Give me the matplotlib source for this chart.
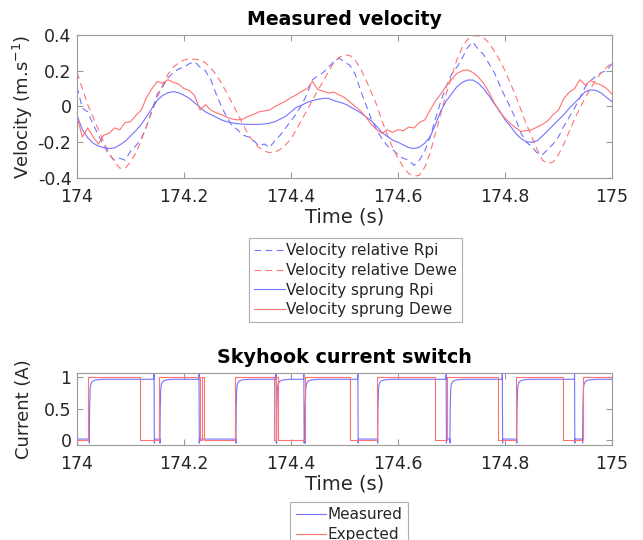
import numpy as np
import matplotlib
matplotlib.use("Agg")
import matplotlib.pyplot as plt

t_vel = np.round(np.arange(174.0, 175.0001, 0.01), 2)

rel_dewe = [0.19, 0.10, 0.01, -0.06, -0.13, -0.20, -0.26, -0.31, -0.345, -0.345,
            -0.31, -0.26, -0.19, -0.11, -0.03, 0.05, 0.12, 0.18, 0.22, 0.245,
            0.26, 0.265, 0.265, 0.26, 0.245, 0.215, 0.18, 0.13, 0.075, 0.02,
            -0.04, -0.10, -0.155, -0.20, -0.23, -0.25, -0.258, -0.255, -0.24, -0.215,
            -0.18, -0.13, -0.075, -0.02, 0.035, 0.09, 0.14, 0.195, 0.245, 0.275,
            0.29, 0.285, 0.26, 0.21, 0.15, 0.08, 0.01, -0.08, -0.16, -0.23,
            -0.29, -0.34, -0.375, -0.39, -0.385, -0.34, -0.26, -0.15, -0.04, 0.07,
            0.17, 0.26, 0.33, 0.375, 0.395, 0.395, 0.385, 0.355, 0.31, 0.26,
            0.20, 0.13, 0.06, -0.02, -0.10, -0.17, -0.24, -0.30, -0.32, -0.31,
            -0.27, -0.21, -0.14, -0.07, -0.01, 0.05, 0.10, 0.15, 0.19, 0.22,
            0.245]

rel_rpi = [0.11, -0.01, -0.03, -0.10, -0.16, -0.22, -0.27, -0.30, -0.29, -0.30,
           -0.25, -0.22, -0.18, -0.11, -0.02, 0.07, 0.11, 0.16, 0.19, 0.21,
           0.22, 0.24, 0.25, 0.22, 0.20, 0.15, 0.07, 0.00, -0.06, -0.11,
           -0.13, -0.16, -0.17, -0.19, -0.22, -0.21, -0.23, -0.19, -0.16, -0.12,
           -0.08, -0.04, 0.01, 0.07, 0.15, 0.17, 0.19, 0.22, 0.25, 0.27,
           0.25, 0.23, 0.18, 0.09, 0.01, -0.07, -0.13, -0.18, -0.22, -0.24,
           -0.27, -0.29, -0.30, -0.33, -0.30, -0.25, -0.17, -0.07, 0.03, 0.11,
           0.18, 0.22, 0.27, 0.33, 0.36, 0.32, 0.29, 0.24, 0.19, 0.12,
           0.055, -0.005, -0.07, -0.15, -0.20, -0.225, -0.26, -0.27, -0.24, -0.21,
           -0.17, -0.11, -0.06, -0.01, 0.05, 0.11, 0.145, 0.17, 0.19, 0.20,
           0.24]

sprung_rpi = [-0.05, -0.13, -0.175, -0.205, -0.222, -0.23, -0.235, -0.232, -0.215, -0.195,
              -0.165, -0.135, -0.10, -0.057, -0.01, 0.035, 0.062, 0.077, 0.083, 0.077,
              0.063, 0.045, 0.02, -0.005, -0.03, -0.045, -0.06, -0.075, -0.085, -0.092,
              -0.096, -0.099, -0.10, -0.10, -0.10, -0.098, -0.093, -0.085, -0.07, -0.055,
              -0.03, -0.005, 0.008, 0.022, 0.033, 0.040, 0.045, 0.046, 0.033, 0.025,
              0.015, 0.0, -0.018, -0.035, -0.058, -0.08, -0.11, -0.145, -0.168, -0.188,
              -0.20, -0.215, -0.23, -0.235, -0.228, -0.205, -0.17, -0.10, -0.025, 0.03,
              0.07, 0.11, 0.135, 0.148, 0.148, 0.13, 0.10, 0.06, 0.015, -0.025,
              -0.075, -0.11, -0.15, -0.18, -0.198, -0.20, -0.192, -0.165, -0.135, -0.105,
              -0.075, -0.045, -0.01, 0.02, 0.05, 0.083, 0.093, 0.09, 0.075, 0.05,
              0.027]

sprung_dewe = [-0.06, -0.17, -0.12, -0.17, -0.21, -0.16, -0.15, -0.12, -0.13, -0.09,
               -0.085, -0.05, -0.02, 0.05, 0.10, 0.14, 0.13, 0.15, 0.135, 0.125,
               0.10, 0.09, 0.06, -0.02, 0.01, -0.02, -0.035, -0.045, -0.06, -0.07,
               -0.075, -0.07, -0.055, -0.045, -0.03, -0.025, -0.02, 0.0, 0.015, 0.03,
               0.05, 0.065, 0.085, 0.10, 0.14, 0.095, 0.085, 0.075, 0.08, 0.065,
               0.05, 0.025, 0.0, -0.025, -0.06, -0.10, -0.13, -0.15, -0.13, -0.145,
               -0.13, -0.135, -0.115, -0.12, -0.09, -0.075, -0.02, 0.03, 0.07, 0.115,
               0.15, 0.185, 0.20, 0.205, 0.19, 0.165, 0.13, 0.08, 0.02, -0.03,
               -0.065, -0.095, -0.12, -0.14, -0.135, -0.13, -0.115, -0.10, -0.08, -0.045,
               -0.02, 0.045, 0.08, 0.10, 0.15, 0.12, 0.145, 0.13, 0.12, 0.10,
               0.07]

# ---- skyhook current switch ----
# expected: toggle times, starts at 0
expected_toggles = [174.020, 174.118, 174.154, 174.230, 174.234, 174.238, 174.296,
                    174.369, 174.372, 174.375, 174.427, 174.511, 174.560, 174.670,
                    174.692, 174.786, 174.821, 174.909, 174.945]
# measured: alternating rise / fall times, starts low
measured_toggles = [174.023, 174.144, 174.155, 174.228, 174.297, 174.372, 174.373,
                    174.424, 174.426, 174.525, 174.562, 174.690, 174.697, 174.795,
                    174.822, 174.930, 174.945]
# shape of a measured rise (time after switch, current)
rise_dt = [0.0, 0.0005, 0.0015, 0.003, 0.006, 0.012, 0.025]
rise_i = [-0.05, 0.5, 0.82, 0.90, 0.94, 0.96, 0.97]
i_low, i_high, i_spike, i_dip = 0.015, 0.97, 1.05, -0.05

blue = (0.45, 0.45, 1.0)
red = (1.0, 0.45, 0.45)
grey = '#9a9a9a'
txt = '#262626'

plt.rcParams['font.family'] = ['DejaVu Sans']
plt.rcParams['mathtext.fontset'] = 'dejavusans'

fig = plt.figure(figsize=(6.43, 5.40), dpi=100)


def style(ax):
    ax.tick_params(direction='in', length=4, top=True, right=True,
                   color=grey, labelcolor=txt, labelsize=12.5)
    ax.tick_params(axis='x', pad=7.5)
    ax.tick_params(axis='y', pad=4)
    for s in ax.spines.values():
        s.set_color(grey)
        s.set_linewidth(0.8)


def add_legend(handles, anchor):
    leg = fig.legend(handles=handles, loc='upper center', bbox_to_anchor=anchor,
                     fontsize=11, frameon=True, fancybox=False, edgecolor=grey,
                     handlelength=2.0, handletextpad=0.1, labelspacing=0.3,
                     borderpad=0.35, borderaxespad=0)
    leg.get_frame().set_linewidth(0.8)
    for t in leg.get_texts():
        t.set_color(txt)
    return leg


# ---- top panel ----
ax1 = fig.add_axes([0.1198, 0.6704, 0.832, 0.2648])
l1, = ax1.plot(t_vel, rel_rpi, color=blue, lw=0.8, dashes=(6, 4), label='Velocity relative Rpi')
l2, = ax1.plot(t_vel, rel_dewe, color=red, lw=0.8, dashes=(6, 4), label='Velocity relative Dewe')
l3, = ax1.plot(t_vel, sprung_rpi, color=blue, lw=0.8, label='Velocity sprung Rpi')
l4, = ax1.plot(t_vel, sprung_dewe, color=red, lw=0.8, label='Velocity sprung Dewe')
ax1.set_xlim(174, 175)
ax1.set_ylim(-0.4, 0.4)
ax1.set_xticks([174, 174.2, 174.4, 174.6, 174.8, 175])
ax1.set_xticklabels(['174', '174.2', '174.4', '174.6', '174.8', '175'])
ax1.set_yticks([-0.4, -0.2, 0, 0.2, 0.4])
ax1.set_yticklabels(['-0.4', '-0.2', '0', '0.2', '0.4'])
style(ax1)
ax1.set_title('Measured velocity', fontsize=13.6, fontweight='bold', color='black', pad=7)
ax1.set_xlabel('Time (s)', fontsize=14, color=txt, labelpad=1)
ax1.set_ylabel('Velocity (m.s$^{-1}$)', fontsize=13, color=txt, labelpad=2)

add_legend([l1, l2, l3, l4], (355.5 / 643, 1 - 238 / 540))

# ---- bottom panel ----
ax2 = fig.add_axes([0.1198, 0.1759, 0.832, 0.1333])

# measured trace
mx, my = [174.0], [i_low]
high = False
for ts in measured_toggles:
    if not high:
        mx.append(ts)
        my.append(i_low)
        for dt, v in zip(rise_dt, rise_i):
            mx.append(ts + dt)
            my.append(v)
    else:
        mx += [ts - 0.0005, ts, ts + 0.0005, ts + 0.001]
        my += [i_high, i_spike, i_dip, i_low]
    high = not high
mx.append(175.0)
my.append(i_high if high else i_low)

# expected trace
ex, ey = [174.0], [0]
level = 0
for ts in expected_toggles:
    ex += [ts, ts]
    ey += [level, 1 - level]
    level = 1 - level
ex.append(175.0)
ey.append(level)

m1, = ax2.plot(mx, my, color=blue, lw=0.8, label='Measured')
m2, = ax2.plot(ex, ey, color=red, lw=0.8, label='Expected')
ax2.set_xlim(174, 175)
ax2.set_ylim(-0.08, 1.07)
ax2.set_xticks([174, 174.2, 174.4, 174.6, 174.8, 175])
ax2.set_xticklabels(['174', '174.2', '174.4', '174.6', '174.8', '175'])
ax2.set_yticks([0, 0.5, 1])
ax2.set_yticklabels(['0', '0.5', '1'])
style(ax2)
ax2.set_title('Skyhook current switch', fontsize=13.8, fontweight='bold', color='black', pad=7)
ax2.set_xlabel('Time (s)', fontsize=14, color=txt, labelpad=1)
ax2.set_ylabel('Current (A)', fontsize=13, color=txt, labelpad=8)

add_legend([m1, m2], (349 / 643, 1 - 502 / 540))

fig.savefig('out.png', dpi=100)
